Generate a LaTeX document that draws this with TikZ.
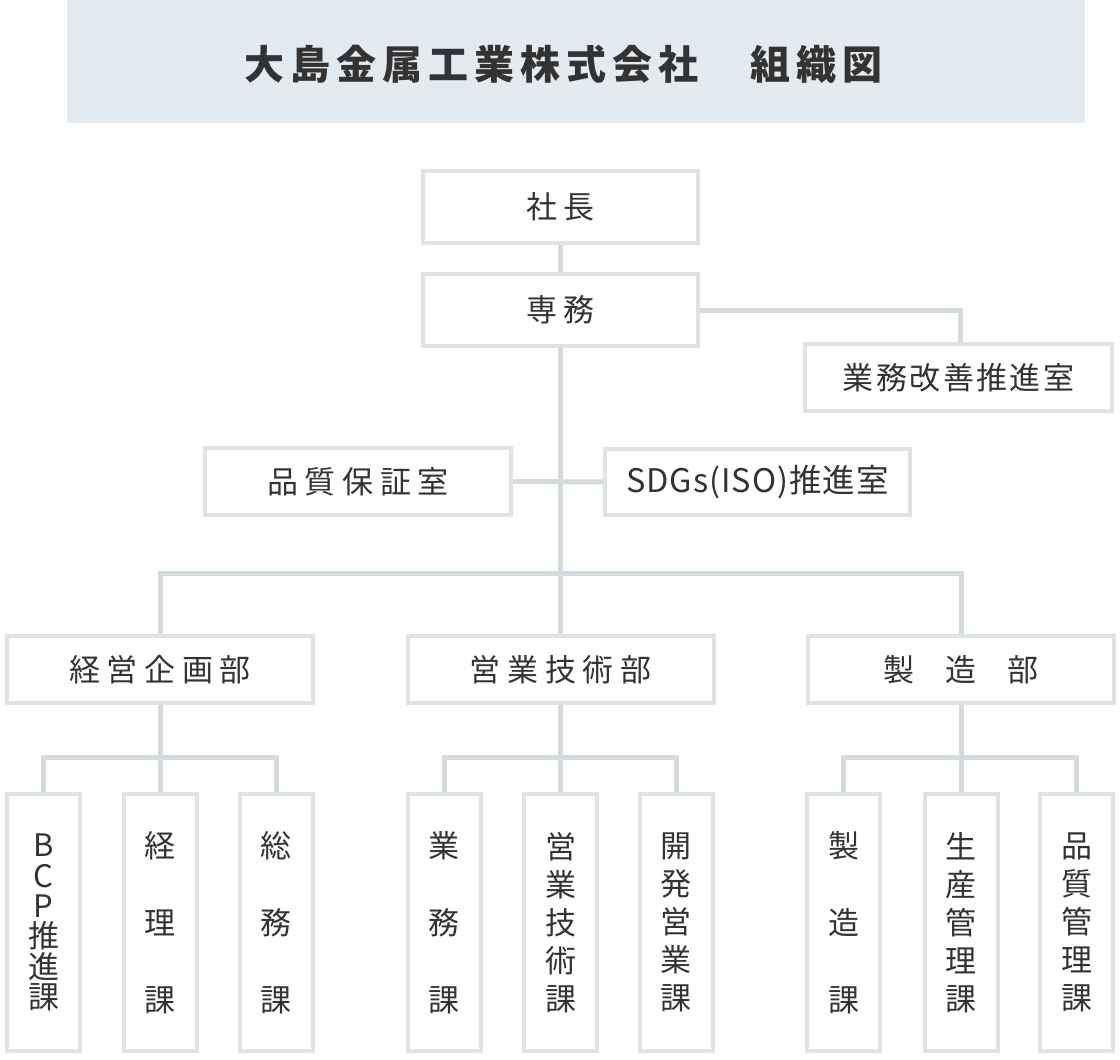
\documentclass[tikz,border=0pt]{standalone}
\usepackage{fontspec}
\newfontfamily\jp{Noto Sans CJK JP}
\usetikzlibrary{backgrounds}
\definecolor{titlebg}{HTML}{E3EBF0}
\definecolor{boxc}{HTML}{DEE3E6}
\definecolor{conn}{HTML}{D4DBDF}
\definecolor{txt}{HTML}{333333}
\tikzset{
  orgbox/.style={draw=boxc, line width=4pt, fill=white, inner sep=0pt, text=txt,
    font=\jp\fontsize{31}{31}\selectfont\addfontfeature{LetterSpace=21}},
  widebox/.style={orgbox, minimum width=306pt, minimum height=67pt},
  topbox/.style={orgbox, minimum width=275pt, minimum height=72pt},
  tallbox/.style={orgbox, minimum width=73pt, minimum height=257pt, align=center},
  three/.style={tallbox, font=\jp\fontsize{31}{77}\selectfont},
  five/.style={tallbox, font=\jp\fontsize{31}{38}\selectfont},
  six/.style={tallbox, font=\jp\fontsize{31}{30.4}\selectfont},
  link/.style={draw=conn, line width=5pt},
}
\begin{document}
\begin{tikzpicture}[x=1pt,y=-1pt]
\useasboundingbox (0,0) rectangle (1120,1060);
% title band
\fill[titlebg] (67,0) rectangle (1085,123);
\node[text=txt, inner sep=0pt, font=\jp\bfseries\fontsize{40}{40}\selectfont\addfontfeature{LetterSpace=15}] (title) at (563,64) {大島金属工業株式会社　組織図};

% top
\node[topbox] (shacho) at (560.5,207) {社長};
\node[topbox] (senmu) at (560.5,310) {専務};
\node[orgbox, minimum width=307pt, minimum height=67pt, font=\jp\fontsize{31}{31}\selectfont\addfontfeature{LetterSpace=8}] (kaizen) at (958.5,377.5) {業務改善推進室};
\node[widebox] (hinshitsu) at (358,481.5) {品質保証室};
\node[orgbox, minimum width=305pt, minimum height=66pt, font=\jp\fontsize{32.5}{32.5}\selectfont\addfontfeature{LetterSpace=3}] (sdgs) at (757.5,482) {SDGs(ISO)推進室};

% departments
\node[widebox] (keiei) at (160,669.5) {経営企画部};
\node[widebox] (eigyo) at (560.5,669.5) {営業技術部};
\node[widebox] (seizo) at (961,669.5) {製\hspace{31pt}造\hspace{31pt}部};

% sections
\node[six] (bcp) at (43.5,922.5) {B\\C\\P\\推\\進\\課};
\node[three] (keiri) at (160,922.5) {経\\理\\課};
\node[three] (somu) at (276,922.5) {総\\務\\課};
\node[three] (gyomu) at (444,922.5) {業\\務\\課};
\node[five] (eigyoka) at (560.5,922.5) {営\\業\\技\\術\\課};
\node[five] (kaihatsu) at (676,922.5) {開\\発\\営\\業\\課};
\node[three] (seizoka) at (843.5,922.5) {製\\造\\課};
\node[five] (seisan) at (961,922.5) {生\\産\\管\\理\\課};
\node[five] (hinkan) at (1076.5,922.5) {品\\質\\管\\理\\課};

\coordinate (busy) at (0,573);
\coordinate (suby) at (0,757);

\begin{pgfonlayer}{background}
\fill[white] (0,0) rectangle (1120,1060);
\path[link] (shacho.south) -- (senmu.north);
\path[link] (senmu.east) -| (kaizen.north -| 960,0);
\path[link] (senmu.south) -- (eigyo.north);
\path[link] (hinshitsu.east) -- (sdgs.west);
\path[link] (keiei.north) |- (seizo.north |- busy) -- (seizo.north);
% sub buses
\path[link] (keiei.south) -- (keiri.north);
\path[link] (bcp.north) |- (somu.north |- suby) -- (somu.north);
\path[link] (eigyo.south) -- (eigyoka.north);
\path[link] (gyomu.north) |- (kaihatsu.north |- suby) -- (kaihatsu.north);
\path[link] (seizo.south) -- (seisan.north);
\path[link] (seizoka.north) |- (hinkan.north |- suby) -- (hinkan.north);
\end{pgfonlayer}
\end{tikzpicture}
\end{document}
